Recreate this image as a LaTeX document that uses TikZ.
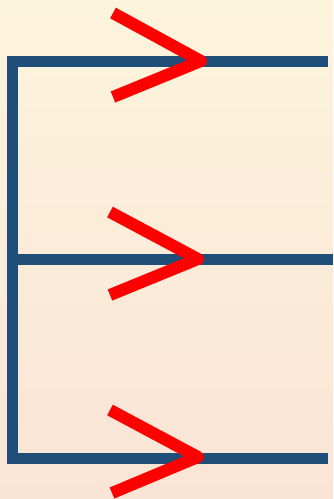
\documentclass[tikz,border=0pt]{standalone}
\begin{document}
\begin{tikzpicture}[x=1pt,y=-1pt,
  bluebar/.style={draw=barblue,line width=11pt,line join=miter,line cap=butt},
  chevron/.style={draw=red,line width=12pt,line join=round,line cap=butt}]
\definecolor{barblue}{RGB}{31,78,121}
\definecolor{bgtop}{RGB}{253,244,220}
\definecolor{bgbot}{RGB}{250,228,214}
\shade[top color=bgtop,bottom color=bgbot] (0,0) rectangle (333,499);
\useasboundingbox (0,0) rectangle (333,499);
% frame coordinates
\coordinate (tl) at (12.5,61);
\coordinate (tr) at (328,61);
\coordinate (ml) at (12.5,259);
\coordinate (mr) at (333,259);
\coordinate (bl) at (12.5,458);
\coordinate (br) at (328,458);
\draw[bluebar] (tr) -- (tl) -- (bl) -- (br);
\draw[bluebar] (ml) -- (mr);
% chevrons
\coordinate (c1a) at (113,13);
\coordinate (c1t) at (201,61);
\coordinate (c1b) at (113,97);
\coordinate (c2a) at (110,212);
\coordinate (c2t) at (198,259);
\coordinate (c2b) at (110,295);
\coordinate (c3a) at (110,410);
\coordinate (c3t) at (198,457);
\coordinate (c3b) at (112,493);
\draw[chevron] (c1a) -- (c1t) -- (c1b);
\draw[chevron] (c2a) -- (c2t) -- (c2b);
\draw[chevron] (c3a) -- (c3t) -- (c3b);
\end{tikzpicture}
\end{document}
